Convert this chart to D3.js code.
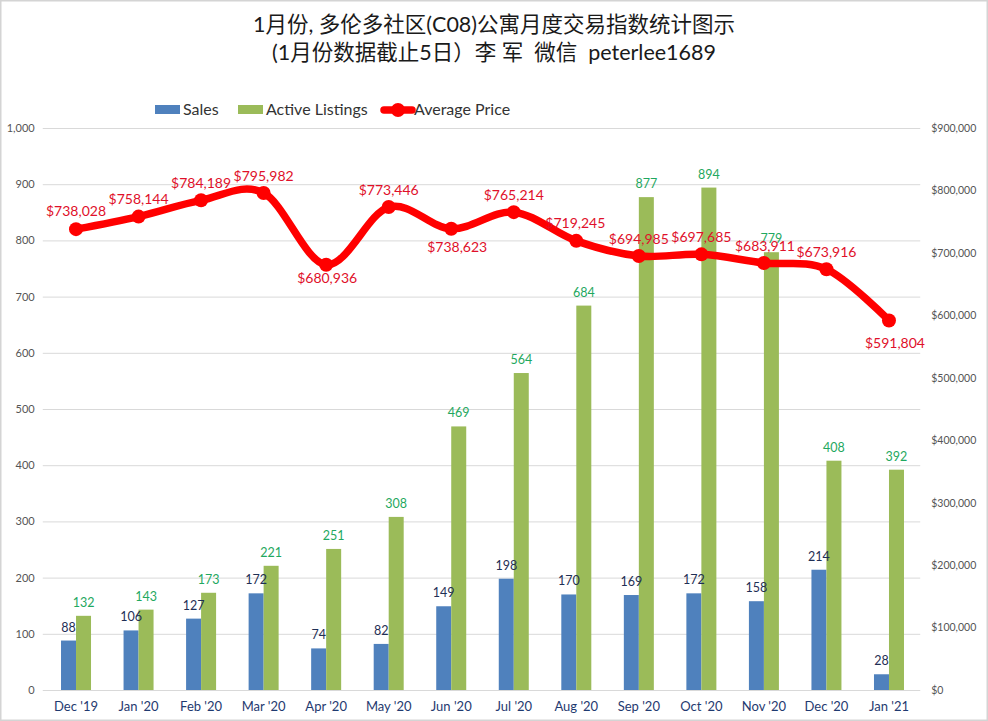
<!DOCTYPE html>
<html><head><meta charset="utf-8">
<script src="https://cdn.jsdelivr.net/npm/d3@7/dist/d3.min.js"></script>
<style>
html,body{margin:0;padding:0;background:#fff}
svg{display:block}
text{font-family:Lato,"Noto Sans CJK SC",sans-serif}
.title{font-family:"Noto Sans CJK SC","Noto Sans",sans-serif;font-size:21.5px;fill:#1a1a1a}
</style></head><body>
<svg id="c" width="988" height="721"></svg>
<script>
const titleLines = ["1月份, 多伦多社区(C08)公寓月度交易指数统计图示", "(1月份数据截止5日）李 军  微信  peterlee1689"];
const categories = ["Dec '19","Jan '20","Feb '20","Mar '20","Apr '20","May '20","Jun '20","Jul '20","Aug '20","Sep '20","Oct '20","Nov '20","Dec '20","Jan '21"];
const sales = [88,106,127,172,74,82,149,198,170,169,172,158,214,28];
const activeListings = [132,143,173,221,251,308,469,564,684,877,894,779,408,392];
const averagePrice = [738028,758144,784189,795982,680936,773446,738623,765214,719245,694985,697685,683911,673916,591804];
const leftTicks = d3.range(0,1001,100);
const rightTicks = d3.range(0,900001,100000);
// label placement relative to each point
const priceLabelDx = [0,0,0,0,1,0,6,0,-1,0,0,1,0,6];
const priceLabelDy = [-19,-19,-18,-18,12,-18,17,-18,-19,-18,-18,-18,-18,22];

const svg = d3.select("#c");
const top_ = 128, bottom = 690, left = 44.75, right = 920.25;
const x = d3.scaleBand().domain(categories).range([left,right]);
const yL = d3.scaleLinear().domain([0,1000]).range([bottom,top_]);
const yR = d3.scaleLinear().domain([0,900000]).range([bottom,top_]);
const inner = d3.scaleBand().domain(["sales","active"]).range([x.bandwidth()/2-15,x.bandwidth()/2+15]);
const cx = c => x(c)+x.bandwidth()/2;

svg.append("rect").attr("x",0.75).attr("y",0.75).attr("width",986.5).attr("height",719.5)
  .attr("fill","#fff").attr("stroke","#d4d4d4").attr("stroke-width",1.5);

const title = svg.append("g").attr("class","title").attr("text-anchor","middle");
title.selectAll("text").data(titleLines).join("text")
  .attr("x",494).attr("y",(d,i)=>32+i*28).attr("xml:space","preserve").style("white-space","pre").text(d=>d);

// left axis with gridlines
const gL = svg.append("g").attr("transform",`translate(${left-2},0)`)
  .call(d3.axisLeft(yL).tickValues(leftTicks).tickSize(0).tickPadding(8).tickFormat(d3.format(",")));
gL.select(".domain").remove();
gL.selectAll("text").attr("fill","#555").style("font-size","11px").style("font-family","Lato");
gL.selectAll("line").attr("x2",right-left+2).attr("stroke","#d9d9d9").attr("stroke-width",1);

// right axis
const gR = svg.append("g").attr("transform",`translate(${right},0)`)
  .call(d3.axisRight(yR).tickValues(rightTicks).tickSize(0).tickPadding(11).tickFormat(d3.format("$,")));
gR.select(".domain").remove();
gR.selectAll("line").remove();
gR.selectAll("text").attr("fill","#555").style("font-size","10.5px").style("font-family","Lato");

// bottom axis
const gB = svg.append("g").attr("transform",`translate(0,${bottom})`)
  .call(d3.axisBottom(x).tickSize(0).tickPadding(12));
gB.select(".domain").remove();
gB.selectAll("text").attr("fill","#1f3a70").style("font-size","13px").style("font-family","Lato");

// bars
svg.append("g").selectAll("rect").data(categories).join("rect")
  .attr("x",c=>x(c)+inner("sales")).attr("width",inner.bandwidth())
  .attr("y",(c,i)=>yL(sales[i])).attr("height",(c,i)=>bottom-yL(sales[i])).attr("fill","#4f81bd");
svg.append("g").selectAll("rect").data(categories).join("rect")
  .attr("x",c=>x(c)+inner("active")).attr("width",inner.bandwidth())
  .attr("y",(c,i)=>yL(activeListings[i])).attr("height",(c,i)=>bottom-yL(activeListings[i])).attr("fill","#9bbb59");

// bar labels
svg.append("g").attr("text-anchor","middle").selectAll("text").data(categories).join("text")
  .attr("x",c=>x(c)+inner("sales")+inner.bandwidth()/2).attr("y",(c,i)=>yL(sales[i])-9)
  .attr("fill","#1f2f55").style("font-size","12.5px").text((c,i)=>sales[i]);
svg.append("g").attr("text-anchor","middle").selectAll("text").data(categories).join("text")
  .attr("x",c=>x(c)+inner("active")+inner.bandwidth()/2).attr("y",(c,i)=>yL(activeListings[i])-9)
  .attr("fill","#1fa860").style("font-size","12.5px").text((c,i)=>activeListings[i]);

// price line
const line = d3.line().x(d=>cx(d.c)).y(d=>yR(d.v)).curve(d3.curveCardinal.tension(0));
const pts = categories.map((c,i)=>({c,v:averagePrice[i]}));
svg.append("path").datum(pts).attr("d",line).attr("fill","none").attr("stroke","#ff0000")
  .attr("stroke-width",7.5).attr("stroke-linejoin","round").attr("stroke-linecap","round");
svg.append("g").selectAll("circle").data(pts).join("circle")
  .attr("cx",d=>cx(d.c)).attr("cy",d=>yR(d.v)).attr("r",7).attr("fill","#ff0000");
svg.append("g").attr("text-anchor","middle").selectAll("text").data(pts).join("text")
  .attr("x",(d,i)=>cx(d.c)+priceLabelDx[i]).attr("y",(d,i)=>yR(d.v)+priceLabelDy[i]+6)
  .attr("fill","#e0102a").style("font-size","14px").text(d=>d3.format("$,")(d.v));

// legend
const lg = svg.append("g").style("font-size","16px").attr("fill","#333");
lg.append("rect").attr("x",155).attr("y",105).attr("width",25).attr("height",9).attr("fill","#4f81bd");
lg.append("text").attr("x",183).attr("y",115).text("Sales");
lg.append("rect").attr("x",238).attr("y",105).attr("width",25).attr("height",9).attr("fill","#9bbb59");
lg.append("text").attr("x",266).attr("y",115).text("Active Listings");
lg.append("line").attr("x1",384).attr("x2",412).attr("y1",110).attr("y2",110).attr("stroke","#ff0000").attr("stroke-width",7.5).attr("stroke-linecap","round");
lg.append("circle").attr("cx",398).attr("cy",110).attr("r",7).attr("fill","#ff0000");
lg.append("text").attr("x",414).attr("y",115).text("Average Price");
</script>
</body></html>
